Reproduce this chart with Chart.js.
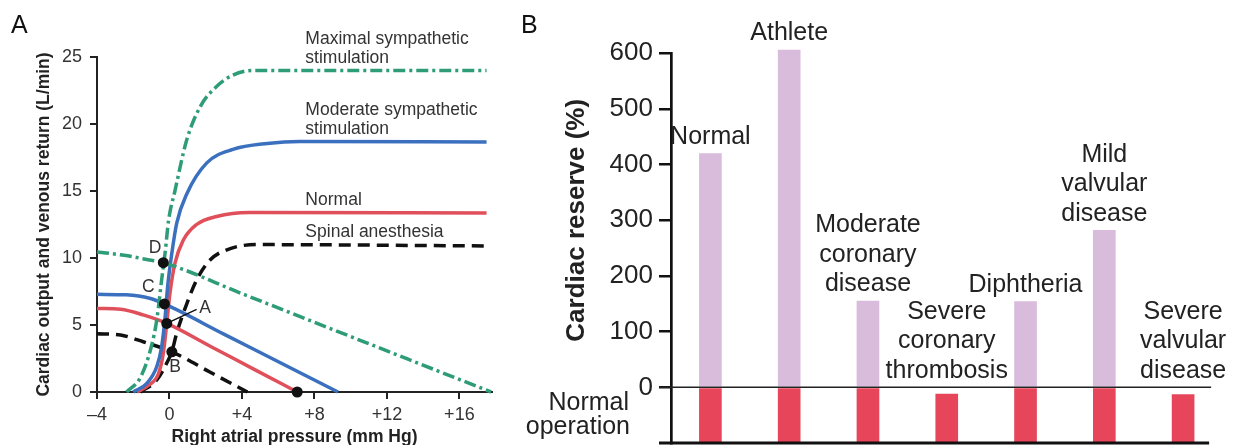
<!DOCTYPE html>
<html>
<head>
<meta charset="utf-8">
<script src="https://cdn.jsdelivr.net/npm/chart.js@4.4.1/dist/chart.umd.min.js"></script>
<style>
  html, body { margin: 0; padding: 0; background: #fff; overflow: hidden; }
  body { width: 1236px; height: 445px; position: relative; font-family: "Liberation Sans", Arial, Helvetica, sans-serif; }
  canvas { position: absolute; top: 0; }
  #chartA { left: 0; }
  #chartB { left: 520px; }
  .panel { position: absolute; font-size: 25px; line-height: 25px; color: #111; z-index: 2; }
</style>
</head>
<body>
<canvas id="chartA" width="520" height="445"></canvas>
<canvas id="chartB" width="716" height="445"></canvas>
<div class="panel" style="left:11px; top:12px;">A</div>
<div class="panel" style="left:521px; top:12px;">B</div>
<script>
// ---- Panel A: cardiac output (CO) and venous return (VR), x = right atrial pressure (mm Hg), y = L/min
const maxCoX = [-2.36, -1.6, -1.0, -0.7, -0.43, -0.24, -0.05, 0.3, 0.95, 1.7, 2.6, 3.5, 4.6, 6, 17.5];
const maxCoY = [0, 1.1, 3.4, 5.4, 8.4, 10.4, 12.8, 15, 18.8, 21.3, 22.8, 23.65, 24, 24, 24];
const modCoX = [-2.0, -1.25, -0.7, -0.43, -0.24, -0.1, 0.13, 0.4, 0.96, 2.06, 3.5, 5.4, 7.2, 17.5];
const modCoY = [0, 0.65, 1.9, 3.4, 5.6, 7.9, 10.35, 12.6, 14.8, 17.1, 18.1, 18.55, 18.7, 18.65];
const normCoX = [-1.8, -1.15, -0.6, -0.34, -0.15, 0.03, 0.3, 0.75, 1.5, 2.6, 4.4, 17.5];
const normCoY = [0, 0.5, 1.4, 2.9, 5.1, 7.4, 9.6, 11.3, 12.5, 13.1, 13.4, 13.35];
const spinCoX = [-1.6, -0.7, -0.06, 0.13, 0.4, 0.96, 1.5, 2.24, 3.35, 4.8, 17.5];
const spinCoY = [0, 0.9, 2.4, 3.0, 4.4, 6.6, 8.36, 9.85, 10.7, 11.0, 10.9];

const maxVrX = [-4, -2.5, -1.1, -0.34, 4, 8.7, 13.2, 17.75];
const maxVrY = [10.45, 10.2, 9.85, 9.65, 7.34, 4.83, 2.43, 0];
const modVrX = [-4, -2.4, -1.1, -0.28, 3, 6.2, 9.3];
const modVrY = [7.29, 7.25, 7.0, 6.57, 4.32, 2.13, 0];
const normVrX = [-4, -2.7, -1.45, -0.15, 2.3, 4.7, 7.05];
const normVrY = [6.24, 6.17, 5.75, 5.12, 3.38, 1.67, 0];
const spinVrX = [-4, -2.7, -1.45, 0.13, 2.2, 4.3];
const spinVrY = [4.35, 4.25, 3.75, 3.0, 1.51, 0];

// equilibrium points D, C, A, B and the zero-flow point of the normal VR curve
const pointX = [-0.34, -0.28, -0.15, 0.13, 7.05];
const pointY = [9.65, 6.57, 5.12, 3.0, 0];
const leaderX = [-0.15, 1.5];
const leaderY = [5.12, 6.17];

const xTicksA = [-4, 0, 4, 8, 12, 16];

// annotations (data coordinates)
const curveLabelText = ['Maximal sympathetic', 'stimulation', 'Moderate sympathetic', 'stimulation', 'Normal', 'Spinal anesthesia'];
const curveLabelY = [26.36, 24.9, 21.0, 19.6, 14.3, 11.94];
const curveLabelX = 7.5;
const letterText = ['D', 'C', 'A', 'B'];
const letterX = [-0.8, -1.17, 1.97, 0.31];
const letterY = [10.7, 7.86, 6.25, 1.89];

// ---- Panel B: cardiac reserve (%)
const categories = [
  ['Normal'], ['Athlete'], ['Moderate', 'coronary', 'disease'], ['Severe', 'coronary', 'thrombosis'],
  ['Diphtheria'], ['Mild', 'valvular', 'disease'], ['Severe', 'valvular', 'disease']
];
const reserve = [420, 606, 155, -12, 154, 282, -13];
const normalLevel = -100;
const reserveTicks = [0, 100, 200, 300, 400, 500, 600];

const FONT = '"Liberation Sans", Arial, Helvetica, sans-serif';
Chart.defaults.font.family = FONT;
Chart.defaults.animation = false;

const GREEN = '#2e9c78';
const BLUE = '#3b70bf';
const RED = '#e0505b';
const BLACK = '#111';

function pts(xs, ys) {
  return xs.map((v, i) => ({ x: v, y: ys[i] }));
}

function curve(xs, ys, color, dash) {
  return {
    data: pts(xs, ys),
    showLine: true,
    borderColor: color,
    borderWidth: 3.5,
    borderDash: dash || [],
    borderCapStyle: 'butt',
    pointRadius: 0,
    tension: 0.4,
    cubicInterpolationMode: 'monotone',
    clip: false,
    order: 2
  };
}

const dashDot = [12, 4, 3, 4];
const dashed = [12, 7];

const labelsA = {
  id: 'labelsA',
  afterDraw(chart) {
    const { ctx, scales: { x, y } } = chart;
    ctx.save();
    ctx.fillStyle = '#333';
    ctx.font = '17.5px ' + FONT;
    ctx.textBaseline = 'middle';
    ctx.textAlign = 'left';
    curveLabelText.forEach((t, i) => {
      ctx.fillText(t, x.getPixelForValue(curveLabelX), y.getPixelForValue(curveLabelY[i]));
    });
    ctx.textAlign = 'center';
    letterText.forEach((t, i) => {
      ctx.fillText(t, x.getPixelForValue(letterX[i]), y.getPixelForValue(letterY[i]));
    });
    ctx.restore();
  }
};

new Chart(document.getElementById('chartA'), {
  type: 'scatter',
  data: {
    datasets: [
      { data: pts(pointX, pointY), pointRadius: 5.5, pointBackgroundColor: BLACK, pointBorderWidth: 0, showLine: false, clip: false, order: 0 },
      { data: pts(leaderX, leaderY), showLine: true, borderColor: BLACK, borderWidth: 1.5, pointRadius: 0, order: 1 },
      curve(maxCoX, maxCoY, GREEN, dashDot),
      curve(maxVrX, maxVrY, GREEN, dashDot),
      curve(modCoX, modCoY, BLUE),
      curve(modVrX, modVrY, BLUE),
      curve(normCoX, normCoY, RED),
      curve(normVrX, normVrY, RED),
      curve(spinCoX, spinCoY, BLACK, dashed),
      curve(spinVrX, spinVrY, BLACK, dashed)
    ]
  },
  options: {
    responsive: false,
    devicePixelRatio: 1,
    layout: { padding: { top: 57, right: 28, left: 0, bottom: 0 } },
    plugins: { legend: { display: false }, tooltip: { enabled: false } },
    scales: {
      x: {
        type: 'linear',
        min: -4,
        max: 17.8,
        afterBuildTicks: s => { s.ticks = xTicksA.map(v => ({ value: v })); },
        afterFit: s => { s.height = 53; },
        grid: { display: true, drawOnChartArea: false, drawTicks: true, tickLength: 7, color: '#222', lineWidth: 2 },
        border: { display: true, color: '#222', width: 2 },
        ticks: {
          color: '#333', font: { size: 18 }, padding: 5, maxRotation: 0, autoSkip: false,
          callback: v => v > 0 ? '+' + v : (v < 0 ? '\u2013' + (-v) : '0')
        },
        title: { display: true, text: 'Right atrial pressure (mm Hg)', color: '#222', font: { size: 17.5, weight: 'bold' }, padding: { top: 0, bottom: -3 } }
      },
      y: {
        min: 0,
        max: 25,
        afterFit: s => { s.width = 97; },
        grid: { display: true, drawOnChartArea: false, drawTicks: true, tickLength: 7, color: '#222', lineWidth: 2 },
        border: { display: true, color: '#222', width: 2 },
        ticks: { stepSize: 5, color: '#333', font: { size: 18 }, padding: 8 },
        title: { display: true, text: 'Cardiac output and venous return (L/min)', color: '#222', font: { size: 17.5, weight: 'bold' }, padding: { top: 33.5, bottom: 0 } }
      }
    }
  },
  plugins: [labelsA]
});

const PINK = '#d9bbdc';
const BAR_RED = '#e6455a';

const labelsB = {
  id: 'labelsB',
  afterDatasetsDraw(chart) {
    const { ctx, chartArea, scales: { x, y } } = chart;
    const left = chartArea.left - 12;
    const right = x.getPixelForValue(categories.length - 1) + 28;
    ctx.save();
    ctx.strokeStyle = '#222';
    ctx.lineWidth = 1.5;
    ctx.beginPath();
    ctx.moveTo(left, y.getPixelForValue(0));
    ctx.lineTo(right, y.getPixelForValue(0));
    ctx.stroke();
    ctx.strokeStyle = '#111';
    ctx.lineWidth = 3;
    ctx.beginPath();
    ctx.moveTo(left, y.getPixelForValue(normalLevel));
    ctx.lineTo(right - 2, y.getPixelForValue(normalLevel));
    ctx.stroke();
    ctx.restore();
  },
  afterDraw(chart) {
    const { ctx, scales: { x, y } } = chart;
    ctx.save();
    ctx.fillStyle = '#222';
    ctx.font = '25px ' + FONT;
    ctx.textAlign = 'center';
    ctx.textBaseline = 'middle';
    categories.forEach((lines, i) => {
      const top = y.getPixelForValue(Math.max(reserve[i], 0));
      const cx = x.getPixelForValue(i);
      lines.forEach((t, k) => {
        ctx.fillText(t, cx, top - 16.5 - (lines.length - 1 - k) * 29.5);
      });
    });
    // normal operation label
    ctx.textAlign = 'right';
    ctx.textBaseline = 'alphabetic';
    ctx.fillText('Normal', 109, 410);
    ctx.fillText('operation', 110, 434);
    // y axis title, centred on the 0-600 range
    const midY = (y.getPixelForValue(0) + y.getPixelForValue(600)) / 2;
    ctx.translate(57, midY);
    ctx.rotate(-Math.PI / 2);
    ctx.textAlign = 'center';
    ctx.textBaseline = 'middle';
    ctx.font = 'bold 26px ' + FONT;
    ctx.fillText('Cardiac reserve (%)', 0, 0);
    ctx.restore();
  }
};

new Chart(document.getElementById('chartB'), {
  type: 'bar',
  data: {
    labels: categories.map(c => c.join(' ')),
    datasets: [
      { data: reserve.map(v => v > 0 ? [0, v] : null), backgroundColor: PINK, grouped: false, barThickness: 22, clip: false, order: 1 },
      { data: reserve.map(v => [normalLevel, Math.min(v, 0)]), backgroundColor: BAR_RED, grouped: false, barThickness: 22, order: 0 }
    ]
  },
  options: {
    responsive: false,
    devicePixelRatio: 1,
    layout: { padding: { top: 53.3, right: 13.5, left: 0, bottom: 0 } },
    plugins: { legend: { display: false }, tooltip: { enabled: false } },
    scales: {
      x: {
        grid: { display: false },
        border: { display: false },
        ticks: { display: false },
        afterFit: s => { s.height = 2; }
      },
      y: {
        min: normalLevel,
        max: 600,
        afterBuildTicks: s => { s.ticks = reserveTicks.map(v => ({ value: v })); },
        afterFit: s => { s.width = 151; s.paddingTop = 0; s.paddingBottom = 0; },
        grid: { display: true, drawOnChartArea: false, drawTicks: true, tickLength: 12, color: '#111', lineWidth: 2.5 },
        border: { display: true, color: '#111', width: 2.7 },
        ticks: { color: '#222', font: { size: 26 }, padding: 6 }
      }
    }
  },
  plugins: [labelsB]
});
</script>
</body>
</html>
